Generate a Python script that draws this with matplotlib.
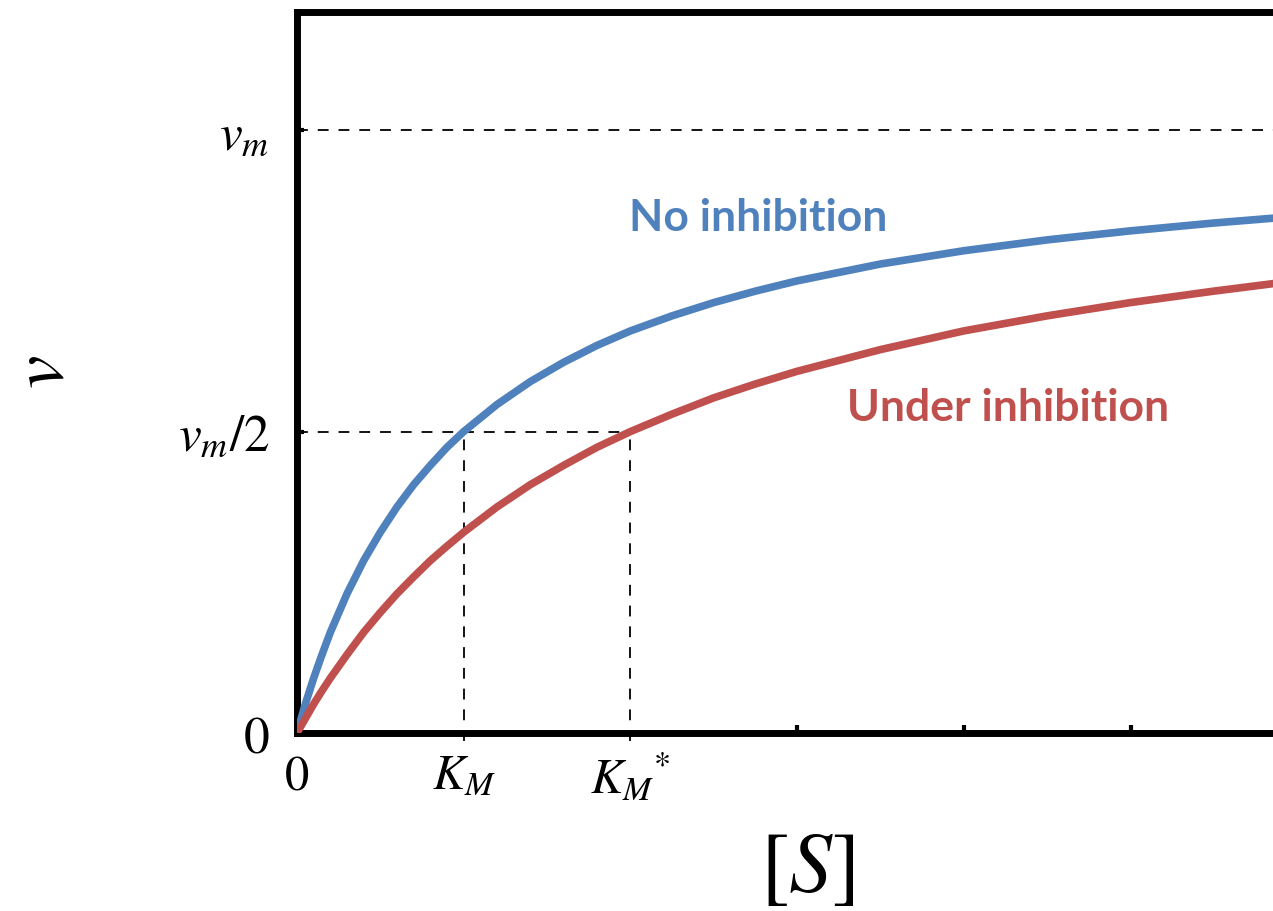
import matplotlib.pyplot as plt

plt.rcParams['mathtext.fontset'] = 'stix'

# substrate concentration (units of K_M) and rates (units of v_m)
s = [0, 0.025, 0.05, 0.1, 0.15, 0.2, 0.3, 0.4, 0.5, 0.6, 0.7, 0.8, 0.9, 1.0,
     1.2, 1.4, 1.6, 1.8, 2.0, 2.25, 2.5, 2.75, 3.0, 3.5, 4.0, 4.5, 5.0, 5.5, 5.9]
v_no_inh = [0, 0.024, 0.048, 0.091, 0.130, 0.167, 0.231, 0.286, 0.333, 0.375,
            0.412, 0.444, 0.474, 0.5, 0.545, 0.583, 0.615, 0.643, 0.667, 0.692,
            0.714, 0.733, 0.75, 0.778, 0.8, 0.818, 0.833, 0.846, 0.855]
v_inh = [0, 0.012, 0.024, 0.048, 0.070, 0.091, 0.130, 0.167, 0.2, 0.231,
         0.259, 0.286, 0.310, 0.333, 0.375, 0.412, 0.444, 0.474, 0.5, 0.529,
         0.556, 0.579, 0.6, 0.636, 0.667, 0.692, 0.714, 0.733, 0.747]

km = 1.0
km_star = 2.0
vm = 1.0

x_ticks = [0, km, km_star]
x_labels = ['$0$', '$K_M$', '$K_M{}^{*}$']
y_ticks = [0, vm / 2, vm]
y_labels = ['$0$', '$v_m/2$', '$v_m$']

blue = '#4f81bd'
red = '#c0504d'

fig = plt.figure(figsize=(12.73, 9.11), dpi=100)
ax = fig.add_axes([0.2333, 0.1954, 0.7700, 0.7914])

dash = (0, (6, 5.5))
ax.axhline(vm, color='black', lw=1.3, linestyle=dash, zorder=1)
ax.plot([0, km_star], [vm / 2, vm / 2], color='black', lw=1.3, linestyle=dash, zorder=1)
ax.plot([km, km], [-0.013, vm / 2], color='black', lw=1.3, linestyle=dash,
        zorder=1, clip_on=False)
ax.plot([km_star, km_star], [-0.013, vm / 2], color='black', lw=1.3,
        linestyle=dash, zorder=1, clip_on=False)

ax.plot(s, v_no_inh, color=blue, lw=5.5, solid_joinstyle='round', zorder=3)
ax.plot(s, v_inh, color=red, lw=5.5, solid_joinstyle='round', zorder=3)

ax.text(1.99, 0.854, 'No inhibition', color=blue, fontsize=32,
        fontweight='bold', family='Lato', va='center', ha='left')
ax.text(3.30, 0.539, 'Under inhibition', color=red, fontsize=32,
        fontweight='bold', family='Lato', va='center', ha='left')

ax.set_xlim(0, 5.88)
ax.set_ylim(0, 1.196)

for side in ['left', 'top', 'bottom']:
    ax.spines[side].set_linewidth(5)
ax.spines['right'].set_visible(False)

ax.set_xticks(x_ticks)
ax.set_xticklabels(x_labels, fontsize=35)
ax.set_xticks([3, 4, 5], minor=True)
ax.set_yticks(y_ticks)
ax.set_yticklabels(y_labels, fontsize=37)
ax.tick_params(axis='x', which='major', length=0, pad=13)
ax.tick_params(axis='x', which='minor', direction='in', length=6, width=3)
ax.tick_params(axis='y', which='major', direction='in', length=5, width=3, pad=20)

fig.text(0.634, 0.047, '$[S]$', fontsize=62, ha='center', va='center')
fig.text(0.033, 0.592, '$v$', fontsize=54, ha='center', va='center', rotation=90)

fig.savefig('out.png', dpi=100)
